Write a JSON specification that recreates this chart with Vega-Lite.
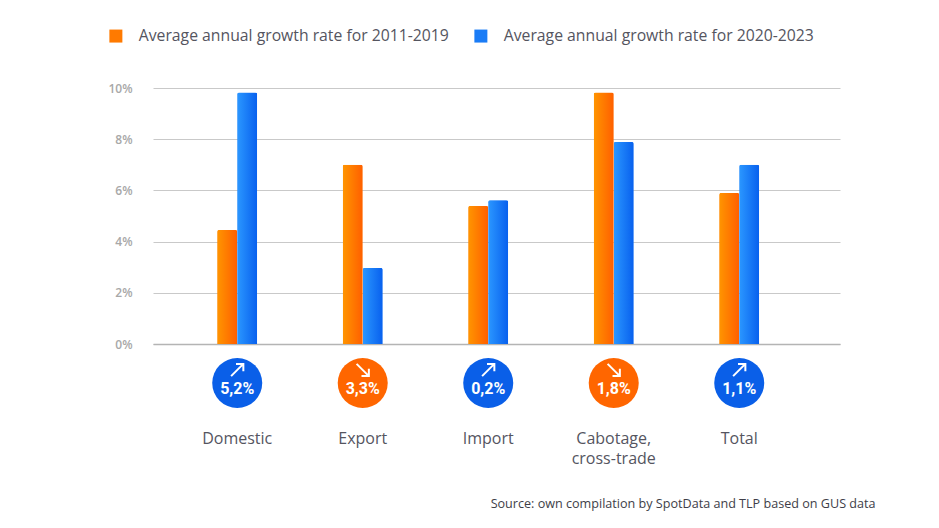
{"$schema":"https://vega.github.io/schema/vega-lite/v6.json","width":687,"height":256,"autosize":"none","padding":{"left":153,"top":88,"right":99,"bottom":184},"background":"white","config":{"view":{"stroke":null},"font":"Open Sans"},
"datasets":{"bars":[{"category":"Domestic","series":"Average annual growth rate for 2011-2019","rate":4.45},{"category":"Domestic","series":"Average annual growth rate for 2020-2023","rate":9.82},{"category":"Export","series":"Average annual growth rate for 2011-2019","rate":7.0},{"category":"Export","series":"Average annual growth rate for 2020-2023","rate":2.97},{"category":"Import","series":"Average annual growth rate for 2011-2019","rate":5.39},{"category":"Import","series":"Average annual growth rate for 2020-2023","rate":5.62},{"category":"Cabotage, cross-trade","series":"Average annual growth rate for 2011-2019","rate":9.82},{"category":"Cabotage, cross-trade","series":"Average annual growth rate for 2020-2023","rate":7.89},{"category":"Total","series":"Average annual growth rate for 2011-2019","rate":5.9},{"category":"Total","series":"Average annual growth rate for 2020-2023","rate":7.0}],
"changes":[{"category":"Domestic","change":"5,2%","trend":"up","base":0},{"category":"Export","change":"3,3%","trend":"down","base":0},{"category":"Import","change":"0,2%","trend":"up","base":0},{"category":"Cabotage, cross-trade","change":"1,8%","trend":"down","base":0},{"category":"Total","change":"1,1%","trend":"up","base":0}]},
"encoding":{"x":{"field":"category","type":"nominal","sort":["Domestic","Export","Import","Cabotage, cross-trade","Total"],"scale":{"paddingInner":0,"paddingOuter":0.237,"align":0.361},"axis":{"title":"Source: own compilation by SpotData and TLP based on GUS data","titleX":722,"titleY":153,"titleAlign":"right","titleAnchor":"end","titleFont":"Open Sans","titleFontSize":12.6,"titleFontWeight":"normal","titleColor":"#3e3e48","labelAngle":0,"labelPadding":86,"labelFontSize":16,"labelColor":"#55555f","labelFont":"Open Sans","labelLineHeight":20,"labelExpr":"datum.label == 'Cabotage, cross-trade' ? ['Cabotage,','cross-trade'] : datum.label","ticks":false,"domainColor":"#b4b4b4","domainWidth":1.5,"grid":false}}},
"layer":[
{"data":{"name":"bars"},"mark":{"type":"bar","cornerRadiusTopLeft":2,"cornerRadiusTopRight":2},"encoding":{"y":{"field":"rate","type":"quantitative","scale":{"domain":[0,10]},"axis":{"title":null,"values":[0,2,4,6,8,10],"labelExpr":"datum.value + '%'","labelFontSize":12,"labelFontWeight":600,"labelColor":"#a8a8a8","labelPadding":21,"ticks":false,"domain":false,"grid":true,"gridColor":"#c9c9c9","gridWidth":1}},"xOffset":{"field":"series","type":"nominal","scale":{"range":[42.75,82.75],"paddingInner":0,"paddingOuter":0}},"color":{"field":"series","type":"nominal","scale":{"domain":["Average annual growth rate for 2011-2019","Average annual growth rate for 2020-2023"],"range":["#ff7a00","#1a7cf6"]},"legend":{"title":null,"orient":"none","legendX":-45,"legendY":-60,"direction":"horizontal","columns":2,"symbolType":"square","symbolSize":169,"symbolStrokeWidth":0,"labelFontSize":15.75,"labelColor":"#55555f","labelFont":"Open Sans","labelLimit":400,"labelOffset":15,"columnPadding":24}}}},
{"data":{"name":"bars"},"transform":[{"filter":"datum.series == 'Average annual growth rate for 2011-2019'"}],"mark":{"type":"bar","cornerRadiusTopLeft":2,"cornerRadiusTopRight":2,"fill":{"gradient":"linear","x1":0,"x2":1,"y1":0,"y2":0,"stops":[{"offset":0,"color":"#ff9500"},{"offset":1,"color":"#ff5f00"}]}},"encoding":{"y":{"field":"rate","type":"quantitative"},"xOffset":{"field":"series","type":"nominal"}}},
{"data":{"name":"bars"},"transform":[{"filter":"datum.series == 'Average annual growth rate for 2020-2023'"}],"mark":{"type":"bar","cornerRadiusTopLeft":2,"cornerRadiusTopRight":2,"fill":{"gradient":"linear","x1":0,"x2":1,"y1":0,"y2":0,"stops":[{"offset":0,"color":"#2b97ff"},{"offset":1,"color":"#0860ee"}]}},"encoding":{"y":{"field":"rate","type":"quantitative"},"xOffset":{"field":"series","type":"nominal"}}},
{"data":{"name":"changes"},"mark":{"type":"point","shape":"circle","filled":true,"opacity":1,"size":2500,"yOffset":39},"encoding":{"y":{"field":"base","type":"quantitative"},"color":{"field":"trend","type":"nominal","scale":{"domain":["up","down"],"range":["#0a5fe8","#ff6600"]},"legend":null}}},
{"data":{"name":"changes"},"mark":{"type":"point","filled":false,"opacity":1,"stroke":"white","strokeWidth":2,"size":150,"yOffset":26},"encoding":{"y":{"field":"base","type":"quantitative"},"shape":{"field":"trend","type":"nominal","scale":{"domain":["up","down"],"range":["M-1,1L1,-1M-0.2,-1L1,-1L1,0.2","M-1,-1L1,1M-0.2,1L1,1L1,-0.2"]},"legend":null}}},
{"data":{"name":"changes"},"mark":{"type":"text","color":"white","font":"Roboto","fontWeight":"bold","fontSize":16,"yOffset":45},"encoding":{"y":{"field":"base","type":"quantitative"},"text":{"field":"change"}}}
],"resolve":{"scale":{"color":"independent"}}}
